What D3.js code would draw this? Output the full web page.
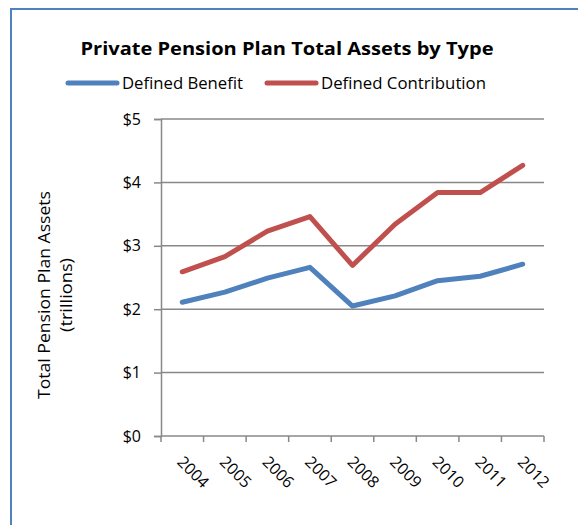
<!DOCTYPE html>
<html>
<head>
<meta charset="utf-8">
<script src="https://cdn.jsdelivr.net/npm/d3@7"></script>
<style>
  body { margin: 0; background: #fff; }
  svg { display: block; font-family: "Open Sans", sans-serif; }
</style>
</head>
<body>
<div id="chart"></div>
<script>
const years = ['2004', '2005', '2006', '2007', '2008', '2009', '2010', '2011', '2012'];
const definedBenefit = [2.11, 2.27, 2.49, 2.66, 2.05, 2.21, 2.45, 2.52, 2.71];
const definedContribution = [2.59, 2.83, 3.23, 3.46, 2.69, 3.34, 3.84, 3.84, 4.27];
const yTicks = [0, 1, 2, 3, 4, 5];

const width = 578, height = 525;
const plot = { left: 161, right: 544, top: 119, bottom: 436 };

const svg = d3.select('#chart').append('svg')
  .attr('width', width)
  .attr('height', height);

// outer border (runs past the right / bottom edge)
svg.append('rect')
  .attr('x', 11).attr('y', 9)
  .attr('width', 600).attr('height', 600)
  .attr('fill', 'none')
  .attr('stroke', '#4F81BD')
  .attr('stroke-width', 2);

const x = d3.scaleBand().domain(years).range([plot.left, plot.right]);
const y = d3.scaleLinear().domain([0, 5]).range([plot.bottom, plot.top]);

// gridlines
svg.append('g')
  .selectAll('line')
  .data(yTicks.filter(d => d > 0))
  .enter().append('line')
  .attr('x1', plot.left).attr('x2', plot.right)
  .attr('y1', d => y(d)).attr('y2', d => y(d))
  .attr('stroke', '#888')
  .attr('stroke-width', 1.5);

// y axis
const yAxis = svg.append('g')
  .attr('transform', `translate(${plot.left},0)`)
  .call(d3.axisLeft(y).tickValues(yTicks).tickSize(7).tickPadding(13).tickFormat(d => '$' + d));
yAxis.select('.domain').attr('stroke', '#888').attr('stroke-width', 1.5);
yAxis.selectAll('.tick line').attr('stroke', '#888').attr('stroke-width', 1.5);
yAxis.selectAll('text')
  .style('font-size', '16px')
  .style('font-family', '"Open Sans", sans-serif')
  .attr('fill', '#000');

// x axis: ticks at category boundaries
const xAxis = svg.append('g')
  .attr('transform', `translate(0,${plot.bottom})`);
xAxis.append('line')
  .attr('x1', plot.left).attr('x2', plot.right)
  .attr('stroke', '#888').attr('stroke-width', 1.5);
const edges = years.map(d => x(d)).concat([plot.right]);
xAxis.selectAll('.xt')
  .data(edges)
  .enter().append('line')
  .attr('class', 'xt')
  .attr('x1', d => d).attr('x2', d => d)
  .attr('y1', 0).attr('y2', 6)
  .attr('stroke', '#888').attr('stroke-width', 1.5);
xAxis.selectAll('.xl')
  .data(years)
  .enter().append('text')
  .attr('class', 'xl')
  .attr('transform', d => `translate(${x(d) + x.bandwidth() / 2 - 6},${27}) rotate(45)`)
  .attr('text-anchor', 'start')
  .style('font-size', '16px')
  .attr('fill', '#000')
  .text(d => d);

// lines
const line = d3.line()
  .x((d, i) => x(years[i]) + x.bandwidth() / 2)
  .y(d => y(d));

svg.append('path')
  .datum(definedBenefit)
  .attr('fill', 'none')
  .attr('stroke', '#4F81BD')
  .attr('stroke-width', 5)
  .attr('stroke-linecap', 'round')
  .attr('stroke-linejoin', 'round')
  .attr('d', line);

svg.append('path')
  .datum(definedContribution)
  .attr('fill', 'none')
  .attr('stroke', '#C0504D')
  .attr('stroke-width', 5)
  .attr('stroke-linecap', 'round')
  .attr('stroke-linejoin', 'round')
  .attr('d', line);

// title
svg.append('text')
  .attr('x', 287).attr('y', 55)
  .attr('text-anchor', 'middle')
  .attr('textLength', 413)
  .attr('lengthAdjust', 'spacingAndGlyphs')
  .style('font-size', '18px')
  .style('font-weight', '700')
  .text('Private Pension Plan Total Assets by Type');

// legend
const legendItems = [
  { name: 'Defined Benefit', color: '#4F81BD', x: 68, w: 121 },
  { name: 'Defined Contribution', color: '#C0504D', x: 267, w: 165 }
];
const legend = svg.append('g');
legendItems.forEach(item => {
  legend.append('line')
    .attr('x1', item.x).attr('x2', item.x + 49)
    .attr('y1', 83).attr('y2', 83)
    .attr('stroke', item.color)
    .attr('stroke-width', 5)
    .attr('stroke-linecap', 'round');
  legend.append('text')
    .attr('x', item.x + 54).attr('y', 89)
    .attr('textLength', item.w)
    .attr('lengthAdjust', 'spacingAndGlyphs')
    .style('font-size', '16px')
    .text(item.name);
});

// y axis title
const yTitle = svg.append('text')
  .attr('transform', 'translate(0,295) rotate(-90)')
  .attr('text-anchor', 'middle')
  .style('font-size', '16px');
yTitle.append('tspan').attr('x', 0).attr('y', 50)
  .attr('textLength', 208).attr('lengthAdjust', 'spacingAndGlyphs')
  .text('Total Pension Plan Assets');
yTitle.append('tspan').attr('x', 0).attr('y', 72)
  .attr('textLength', 74).attr('lengthAdjust', 'spacingAndGlyphs')
  .text('(trillions)');
</script>
</body>
</html>
